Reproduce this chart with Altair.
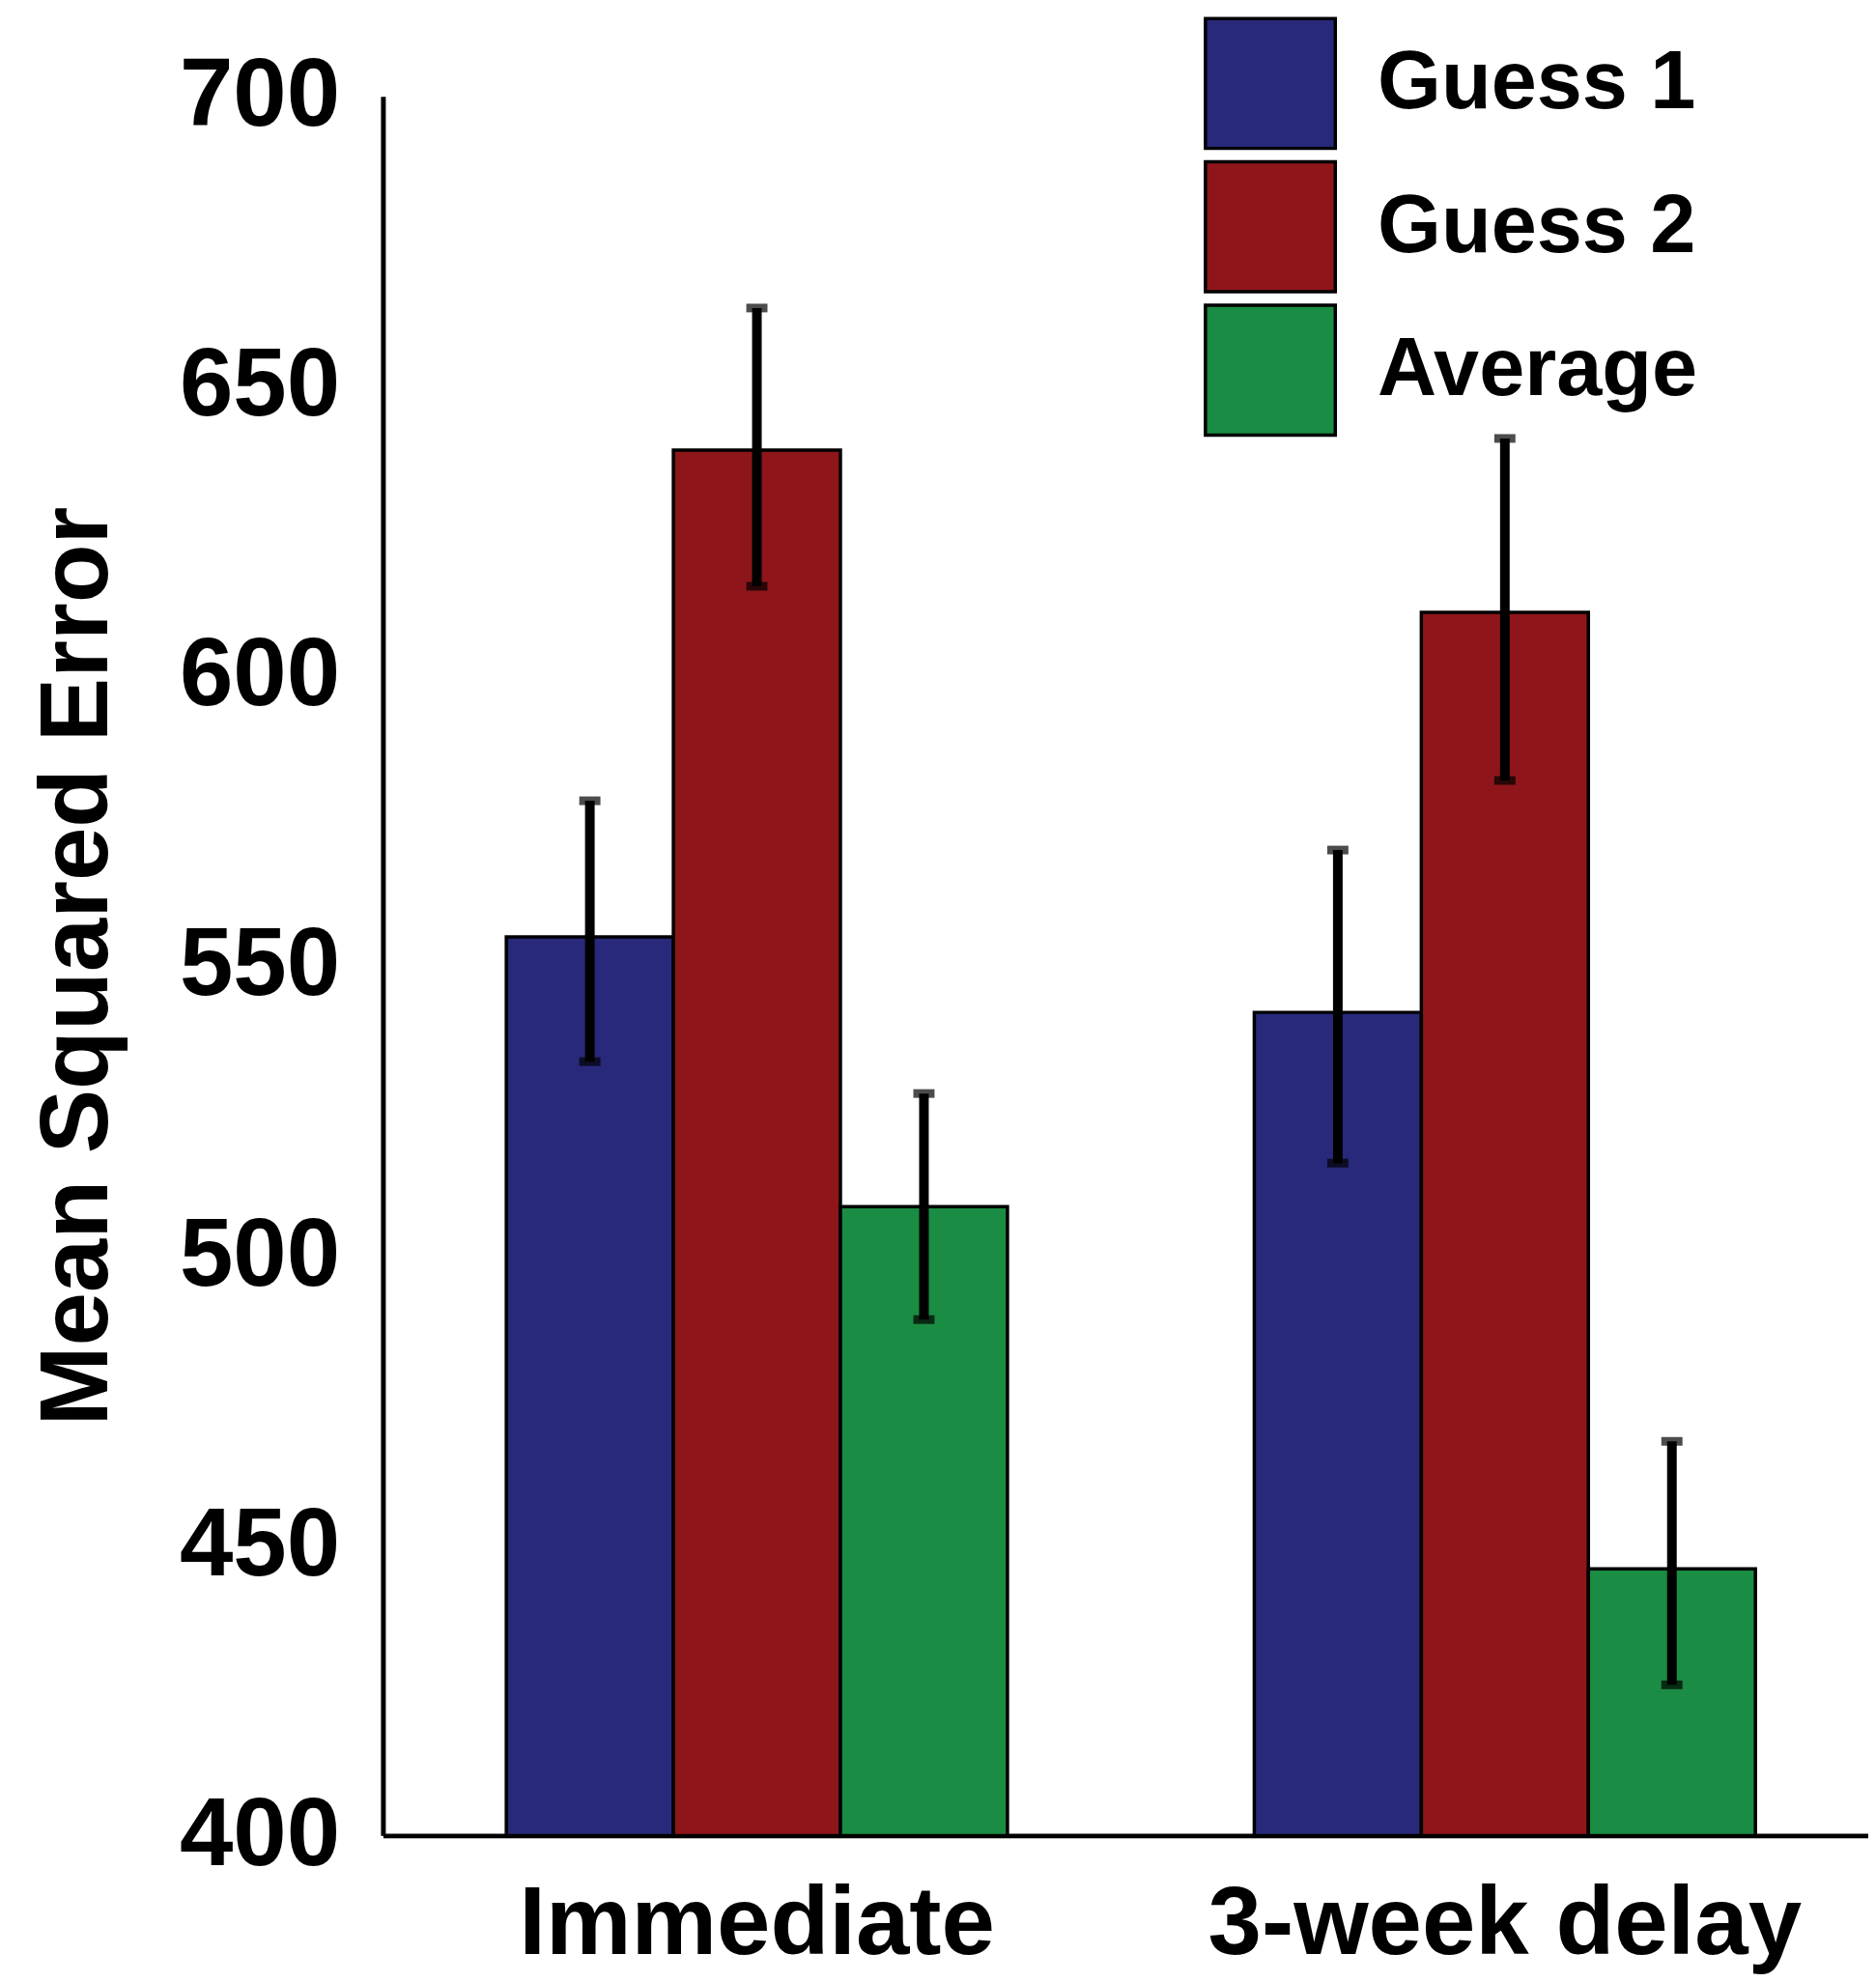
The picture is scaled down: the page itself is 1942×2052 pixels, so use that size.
import altair as alt
import pandas as pd

conditions = ["Immediate", "Immediate", "Immediate",
              "3-week delay", "3-week delay", "3-week delay"]
series = ["Guess 1", "Guess 2", "Average", "Guess 1", "Guess 2", "Average"]
means = [555, 639, 508.5, 542, 611, 446]
err_hi = [578.5, 663.5, 528, 570, 641, 468]
err_lo = [533.5, 615.5, 489, 516, 582, 426]

series_order = ["Guess 1", "Guess 2", "Average"]
cond_order = ["Immediate", "3-week delay"]
colors = ["#28297a", "#8e161a", "#1b8c43"]
y_ticks = [400, 450, 500, 550, 600, 650, 700]

df = pd.DataFrame({"condition": conditions, "series": series,
                   "mse": means, "hi": err_hi, "lo": err_lo})

FONT = "Liberation Sans"

x_enc = alt.X("condition:N", sort=cond_order,
              scale=alt.Scale(paddingInner=0.33, paddingOuter=0.165, range=[0, 1555]),
              axis=alt.Axis(title=None, labelAngle=0, ticks=False, tickSize=0, grid=False,
                            labelFont=FONT, labelFontSize=100, labelFontWeight="bold",
                            labelColor="black", labelPadding=44, labelLimit=2000,
                            domainColor="black", domainWidth=5))
xo_enc = alt.XOffset("series:N", sort=series_order,
                     scale=alt.Scale(paddingInner=0, paddingOuter=0))

y_scale = alt.Scale(domain=[400, 700], nice=False, zero=False)

bars = alt.Chart(df).mark_bar(stroke="black", strokeWidth=3.5).encode(
    x=x_enc,
    xOffset=xo_enc,
    y=alt.Y("mse:Q", scale=y_scale,
            axis=alt.Axis(values=y_ticks, title="Mean Squared Error",
                          ticks=False, tickSize=0, grid=False,
                          labelFont=FONT, labelFontSize=100, labelFontWeight="bold",
                          labelColor="black", labelPadding=45, labelFlush=False,
                          labelOverlap=False, labelLimit=2000,
                          titleFont=FONT, titleFontSize=100, titleFontWeight="bold",
                          titleColor="black", titlePadding=66, titleLimit=3000,
                          domainColor="black", domainWidth=5)),
    y2=alt.datum(400),
    color=alt.Color("series:N", sort=series_order,
                    scale=alt.Scale(domain=series_order, range=colors),
                    legend=alt.Legend(title=None, orient="none", legendX=853, legendY=-83,
                                      symbolType="square", symbolSize=18225,
                                      symbolStrokeColor="black", symbolStrokeWidth=3.5,
                                      labelFont=FONT, labelFontSize=85,
                                      labelFontWeight="bold", labelColor="black",
                                      labelOffset=42, rowPadding=0, padding=0,
                                      labelLimit=2000)),
)

rules = alt.Chart(df).mark_rule(color="black", strokeWidth=10).encode(
    x=alt.X("condition:N", sort=cond_order),
    xOffset=alt.XOffset("series:N", sort=series_order),
    y=alt.Y("lo:Q", scale=y_scale),
    y2="hi:Q",
)

caps_hi = alt.Chart(df).mark_tick(color="black", thickness=9, size=22).encode(
    x=alt.X("condition:N", sort=cond_order),
    xOffset=alt.XOffset("series:N", sort=series_order),
    y=alt.Y("hi:Q", scale=y_scale),
)
caps_lo = alt.Chart(df).mark_tick(color="black", thickness=9, size=22).encode(
    x=alt.X("condition:N", sort=cond_order),
    xOffset=alt.XOffset("series:N", sort=series_order),
    y=alt.Y("lo:Q", scale=y_scale),
)

chart = alt.layer(bars, rules, caps_hi, caps_lo).properties(
    width=1544, height=1808,
    autosize=alt.AutoSizeParams(type="none"),
    padding={"left": 390, "top": 88, "right": 0, "bottom": 140},
).configure(background="white").configure_view(
    stroke=None, strokeWidth=0
).configure_axis(grid=False)

chart.save("out.html", embed_options={"renderer": "svg", "actions": False})
